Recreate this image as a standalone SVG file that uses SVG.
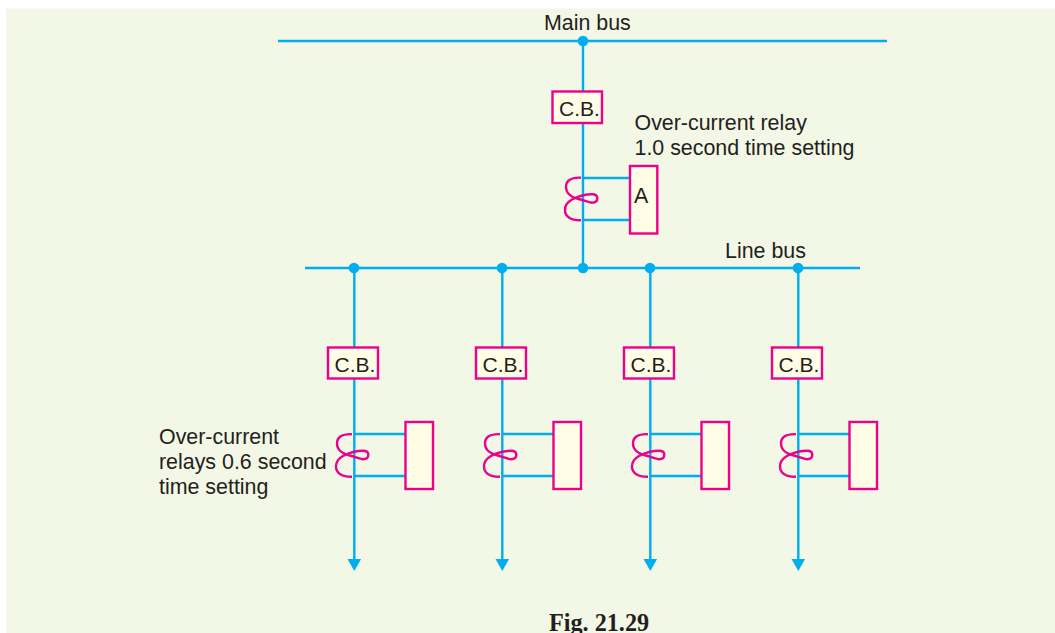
<svg xmlns="http://www.w3.org/2000/svg" xmlns:xlink="http://www.w3.org/1999/xlink" width="1055" height="633" viewBox="0 0 1055 633">
  <style>
    .wire{fill:none;stroke:#00aeef;stroke-width:2.4}
    .dot{fill:#00aeef}
    .arrow{fill:#00aeef}
    .box{fill:#fffde6;stroke:#ec008c;stroke-width:2.4}
    .coil{fill:none;stroke:#ec008c;stroke-width:2.4}
    text{font-family:"Liberation Sans",Arial,sans-serif;font-size:21.400px;fill:#231f20}
    .cb{font-size:21px}
    .cap{font-family:"Liberation Serif","Times New Roman",serif;font-size:24.200px;font-weight:bold}
  </style>
  <defs>
    <path id="coilShape" class="coil" d="M581 177.700C570 177.200 566 181.500 566 187C566 193 571 197 577 198.500C584 200 588 202.700 592 202.700C595.500 202.700 597.300 200.800 597.300 198.300C597.300 195.800 595.500 194.300 592 194.300C585 194.300 578 196.500 572 199.500C567.500 202 565 206 565 210C565 216 570 220.500 581 220.300"/>
  </defs>
  <rect x="6.500" y="8.500" width="1048.500" height="624.500" fill="#f3f7e6"/>
  <g id="connectors">
    <path class="wire" d="M278 41H887M305 268H860M583 41V268"/>
    <path class="wire" d="M583 178H630M583 220H630"/>
    <path class="wire" d="M354.300 268V560M502.300 268V560M650.300 268V560M798.300 268V560"/>
    <path class="wire" d="M354 434H406M354 476H406M502 434H554M502 476H554M650 434H702M650 476H702M798 434H850M798 476H850"/>
    <path class="arrow" d="M347.500 559H361.100L354.300 571ZM495.500 559H509.100L502.300 571ZM643.500 559H657.100L650.300 571ZM791.500 559H805.100L798.300 571Z"/>
    <circle class="dot" cx="583" cy="41" r="5.300"/>
    <circle class="dot" cx="354" cy="268" r="5.300"/>
    <circle class="dot" cx="502" cy="268" r="5.300"/>
    <circle class="dot" cx="583" cy="268" r="5.300"/>
    <circle class="dot" cx="650" cy="268" r="5.300"/>
    <circle class="dot" cx="798" cy="268" r="5.300"/>
  </g>
  <g id="main-bus-label"><text x="544" y="30">Main bus</text></g>
  <g id="line-bus-label"><text x="725" y="258">Line bus</text></g>
  <g id="cb-main"><rect class="box" x="552.500" y="91.500" width="49.500" height="31.500"/><text class="cb" x="559" y="116">C.B.</text></g>
  <g id="relay-a-label"><text x="634.500" y="129.500">Over-current relay</text><text x="634.500" y="154.500">1.0 second time setting</text></g>
  <g id="coil-a"><use href="#coilShape"/></g>
  <g id="relay-a"><rect class="box" x="630" y="166" width="27.300" height="67.500"/><text x="634" y="203">A</text></g>
  <g id="cb-1"><rect class="box" x="328" y="347.500" width="50" height="31"/><text class="cb" x="334.500" y="372">C.B.</text></g>
  <g id="cb-2"><rect class="box" x="476" y="347.500" width="50" height="31"/><text class="cb" x="482.500" y="372">C.B.</text></g>
  <g id="cb-3"><rect class="box" x="624" y="347.500" width="50" height="31"/><text class="cb" x="630.500" y="372">C.B.</text></g>
  <g id="cb-4"><rect class="box" x="772" y="347.500" width="50" height="31"/><text class="cb" x="778.500" y="372">C.B.</text></g>
  <g id="coil-1"><use href="#coilShape" transform="translate(-229 256.500)"/></g>
  <g id="coil-2"><use href="#coilShape" transform="translate(-81 256.500)"/></g>
  <g id="coil-3"><use href="#coilShape" transform="translate(67 256.500)"/></g>
  <g id="coil-4"><use href="#coilShape" transform="translate(215 256.500)"/></g>
  <g id="relay-1"><rect class="box" x="405.500" y="422" width="27.500" height="67"/></g>
  <g id="relay-2"><rect class="box" x="553.500" y="422" width="27.500" height="67"/></g>
  <g id="relay-3"><rect class="box" x="701.500" y="422" width="27.500" height="67"/></g>
  <g id="relay-4"><rect class="box" x="849.500" y="422" width="27.500" height="67"/></g>
  <g id="relays-label"><text x="159" y="444">Over-current</text><text x="159" y="469">relays 0.6 second</text><text x="159" y="494">time setting</text></g>
  <g id="caption"><text class="cap" x="549" y="630.500">Fig. 21.29</text></g>
</svg>
